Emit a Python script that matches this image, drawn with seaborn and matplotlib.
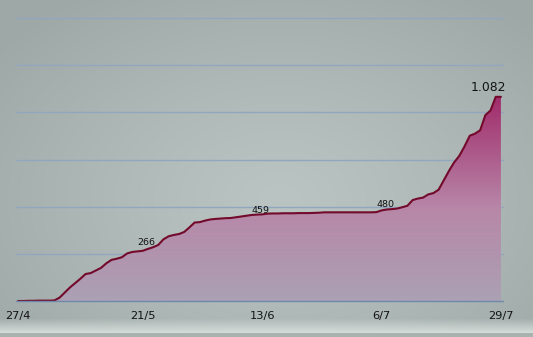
import numpy as np
import matplotlib
matplotlib.use("Agg")
import matplotlib.pyplot as plt
import seaborn as sns
from matplotlib.colors import LinearSegmentedColormap

# ---- data ----
values = [0, 0, 1, 1, 2, 2, 2, 3, 18, 45,
          72, 95, 118, 143, 148, 162, 176, 200, 218, 224,
          232, 252, 260, 263, 266, 276, 285, 297, 327, 343,
          350, 355, 366, 390, 416, 418, 426, 432, 435, 437,
          439, 440, 444, 448, 452, 456, 458, 459, 463, 464,
          464, 465, 465, 465, 466, 466, 466, 467, 468, 470,
          470, 470, 470, 470, 470, 470, 470, 470, 470, 471,
          480, 485, 487, 490, 497, 505, 535, 543, 548, 565,
          572, 590, 640, 690, 735, 770, 820, 876, 887, 905,
          985, 1010, 1082, 1082]
days = list(range(len(values)))
tick_days = [0, 24, 47, 70, 93]
tick_labels = ["27/4", "21/5", "13/6", "6/7", "29/7"]
label_days = [24, 47, 70, 93]
label_texts = ["266", "459", "480", "1.082"]
grid_values = [250, 500, 750, 1000, 1250, 1500]

# ---- styling ----
label_offsets = [(2.5, 4.3), (-1.5, 1.2), (3.2, 2.6), (-9.0, 4.3)]
label_sizes = [6.8, 6.8, 6.8, 8.9]

sns.set_theme(style="white")
plt.rcParams['font.family'] = ['DejaVu Sans']

W, H = 533, 337
fig = plt.figure(figsize=(W / 100, H / 100), dpi=100)

# background gradient
bg = fig.add_axes([0, 0, 1, 1], zorder=0)
yy, xx = np.mgrid[0:H, 0:W]
d = np.sqrt(((xx - 280) / 360.0) ** 2 + ((yy - 200) / 250.0) ** 2)
t = np.clip(d, 0, 1)[..., None] ** 1.2
c_center = np.array([186, 196, 194]) / 255
c_edge = np.array([158, 168, 166]) / 255
img = c_center * (1 - t) + c_edge * t
light = np.array([212, 220, 217]) / 255
for r in range(318, 333):
    a = (r - 318) / 14.0
    img[r] = img[r] * (1 - a) + light * a
img[333:] = np.array([170, 178, 175]) / 255
bg.imshow(img, aspect='auto', interpolation='bilinear')
bg.axis('off')

ax = fig.add_axes([16 / W, 36 / H, 487 / W, 283 / H], zorder=1)
ax.patch.set_alpha(0)

for g in grid_values:
    ax.axhline(g, color='#93a6c0', lw=1.0, alpha=1.0, zorder=1, clip_on=False)
ax.axhline(0, color='#6e8aab', lw=1.0, zorder=4, clip_on=False)

# gradient fill under the curve
poly = ax.fill_between(days, values, 0, color='none', lw=0)
cmap = LinearSegmentedColormap.from_list(
    'fill', [(0.0, (0.67, 0.63, 0.71)), (0.45, (0.72, 0.53, 0.66)), (1.0, (0.63, 0.17, 0.42))])
grad = np.linspace(0, 1, 256)[:, None]
im = ax.imshow(grad, extent=[0, days[-1], 0, max(values)], origin='lower',
               cmap=cmap, aspect='auto', zorder=2, interpolation='bilinear')
im.set_clip_path(poly.get_paths()[0], transform=ax.transData)

sns.lineplot(x=days, y=values, ax=ax, color='#730a2b', lw=1.5, zorder=3)

for dday, txt, off, fs in zip(label_days, label_texts, label_offsets, label_sizes):
    ax.annotate(txt, (dday, values[dday]), xytext=off, textcoords='offset points',
                ha='center', va='baseline', fontsize=fs, color='#121212', zorder=5)

ax.set_xlim(-0.4, 93.4)
ax.set_ylim(0, 1500)
ax.set_xticks(tick_days, tick_labels)
ax.set_yticks([])
ax.tick_params(axis='x', length=0, pad=7.5, labelsize=8.2, labelcolor='#121212')
ax.set_xlabel('')
ax.set_ylabel('')
for s in ax.spines.values():
    s.set_visible(False)

fig.savefig('out.png', dpi=100)
